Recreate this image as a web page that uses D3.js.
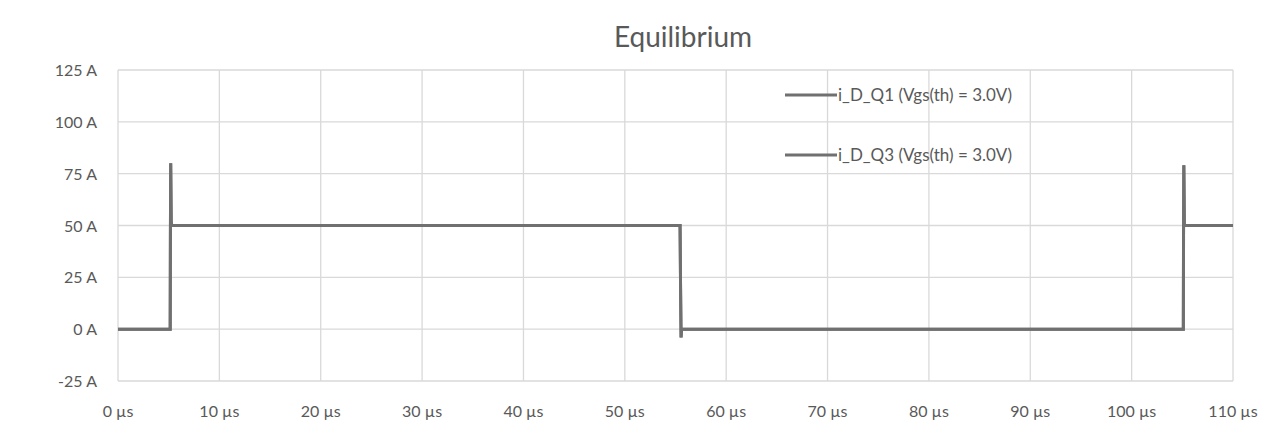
<!DOCTYPE html>
<html><head><meta charset="utf-8">
<script src="https://cdn.jsdelivr.net/npm/d3@7"></script>
<style>body{margin:0;background:#fff;font-family:Lato,"Liberation Sans",sans-serif;}</style>
</head><body><svg id="c" width="1280" height="427"></svg>
<script>
const timeUs = [0, 5.15, 5.17, 5.2, 5.25, 5.3, 55.45, 55.5, 55.55, 55.6, 105.1, 105.12, 105.15, 105.2, 110];
const iQ1 = [0, 0, 45, 80, 52, 50, 50, 20, -4, 0, 0, 45, 79, 50, 50];
const iQ3 = [0, 0, 45, 80, 52, 50, 50, 20, -4, 0, 0, 45, 79, 50, 50];
const seriesNames = ["i_D_Q1 (Vgs(th) = 3.0V)", "i_D_Q3 (Vgs(th) = 3.0V)"];
const xTicks = d3.range(0, 111, 10);
const yTicks = [-25, 0, 25, 50, 75, 100, 125];

const svg = d3.select("#c");
const x = d3.scaleLinear().domain([0, 110]).range([118, 1233]);
const y = d3.scaleLinear().domain([-25, 125]).range([381, 70]);
const grid = "#d9d9d9", txt = "#595959", lineCol = "#707070";

svg.append("g").selectAll("line").data(yTicks).join("line")
  .attr("x1", x(0)).attr("x2", x(110)).attr("y1", y).attr("y2", y)
  .attr("stroke", grid).attr("stroke-width", 1.3);
svg.append("g").selectAll("line").data(xTicks).join("line")
  .attr("y1", y(-25)).attr("y2", y(125)).attr("x1", x).attr("x2", x)
  .attr("stroke", grid).attr("stroke-width", 1.3);

svg.append("g").selectAll("text").data(yTicks).join("text")
  .attr("x", 97).attr("y", d => y(d) + 6).attr("text-anchor", "end")
  .attr("font-size", 16).attr("fill", txt).text(d => d + " A");
svg.append("g").selectAll("text").data(xTicks).join("text")
  .attr("x", x).attr("y", 417).attr("text-anchor", "middle")
  .attr("font-size", 16).attr("fill", txt).text(d => d + " µs");

svg.append("text").attr("x", 683).attr("y", 47).attr("text-anchor", "middle")
  .attr("font-size", 28).attr("fill", txt).text("Equilibrium");

const line = d3.line().x((d, i) => x(timeUs[i])).y(d => y(d));
[iQ1, iQ3].forEach(s => svg.append("path").attr("d", line(s))
  .attr("fill", "none").attr("stroke", lineCol).attr("stroke-width", 3));

const lg = svg.append("g").selectAll("g").data(seriesNames).join("g")
  .attr("transform", (d, i) => `translate(785,${95 + i * 60})`);
lg.append("line").attr("x1", 0).attr("x2", 52).attr("stroke", lineCol).attr("stroke-width", 3);
lg.append("text").attr("x", 53).attr("y", 6).attr("font-size", 17).attr("fill", txt).text(d => d);
</script></body></html>
